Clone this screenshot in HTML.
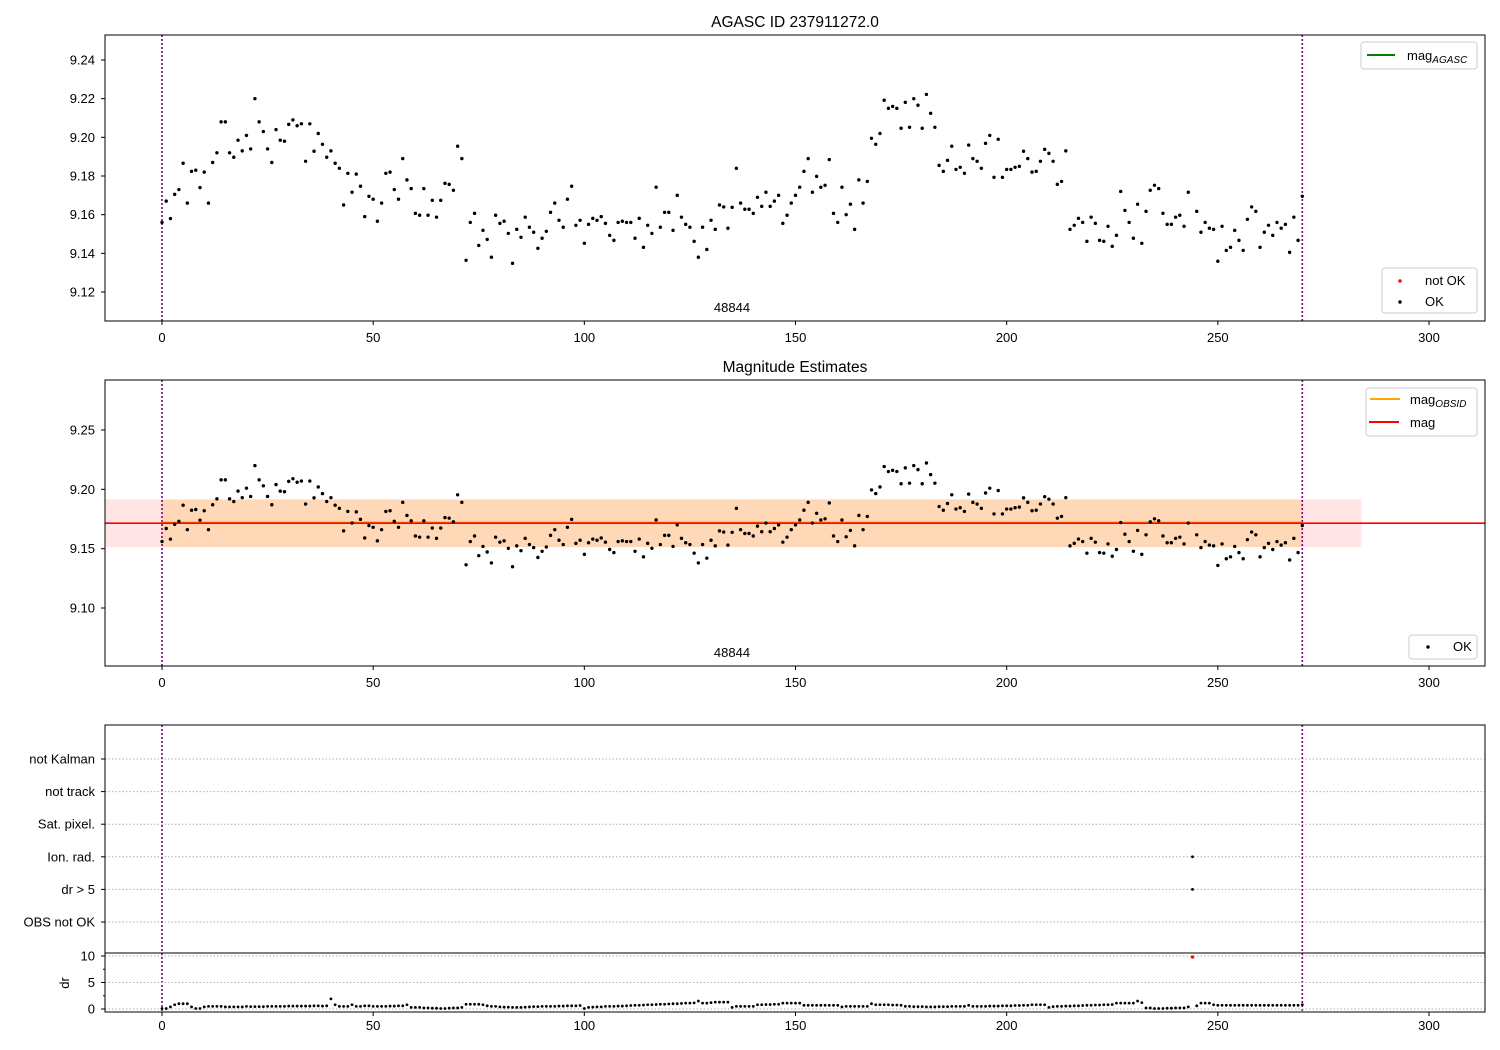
<!DOCTYPE html>
<html><head><meta charset="utf-8"><style>
body{margin:0;background:#fff}
svg{display:block;font-family:"Liberation Sans","DejaVu Sans",sans-serif}
</style></head><body>
<svg id="c" width="1500" height="1050" viewBox="0 0 1500 1050"></svg>
<script>
const okT=[0,1,2,3,4,5,6,7,8,9,10,11,12,13,14,15,16,17,18,19,20,21,22,23,24,25,26,27,28,29,30,31,32,33,34,35,36,37,38,39,40,41,42,43,44,45,46,47,48,49,50,51,52,53,54,55,56,57,58,59,60,61,62,63,64,65,66,67,68,69,70,71,72,73,74,75,76,77,78,79,80,81,82,83,84,85,86,87,88,89,90,91,92,93,94,95,96,97,98,99,100,101,102,103,104,105,106,107,108,109,110,111,112,113,114,115,116,117,118,119,120,121,122,123,124,125,126,127,128,129,130,131,132,133,134,135,136,137,138,139,140,141,142,143,144,145,146,147,148,149,150,151,152,153,154,155,156,157,158,159,160,161,162,163,164,165,166,167,168,169,170,171,172,173,174,175,176,177,178,179,180,181,182,183,184,185,186,187,188,189,190,191,192,193,194,195,196,197,198,199,200,201,202,203,204,205,206,207,208,209,210,211,212,213,214,215,216,217,218,219,220,221,222,223,224,225,226,227,228,229,230,231,232,233,234,235,236,237,238,239,240,241,242,243,245,246,247,248,249,250,251,252,253,254,255,256,257,258,259,260,261,262,263,264,265,266,267,268,269,270];
const okMag=[9.156,9.167,9.158,9.1705,9.173,9.1866,9.166,9.1824,9.183,9.174,9.182,9.166,9.187,9.192,9.208,9.208,9.192,9.1897,9.1985,9.193,9.201,9.194,9.220,9.208,9.203,9.194,9.187,9.204,9.1985,9.198,9.2067,9.209,9.206,9.207,9.1876,9.207,9.1928,9.202,9.1964,9.1897,9.193,9.1866,9.184,9.165,9.1814,9.1716,9.181,9.1747,9.159,9.1695,9.168,9.1566,9.166,9.1814,9.182,9.173,9.168,9.189,9.178,9.1735,9.1607,9.1597,9.1735,9.1597,9.1674,9.1587,9.1674,9.1762,9.1757,9.1726,9.1954,9.189,9.1364,9.156,9.1607,9.1441,
9.1519,9.1472,9.138,9.1597,9.1555,9.1566,9.1503,9.1348,9.1524,9.1483,9.1587,9.1535,9.1509,9.1426,9.1478,9.1514,9.1612,9.166,9.1571,9.1535,9.168,9.1747,9.1545,9.1571,9.1452,9.155,9.1581,9.1571,9.159,9.1555,9.1493,9.1467,9.156,9.1566,9.156,9.156,9.1478,9.1581,9.1431,9.1545,9.1503,9.1742,9.1535,9.1612,9.1612,9.1519,9.170,9.1587,9.155,9.1535,9.1462,9.138,9.1535,9.142,9.1571,9.1524,9.165,9.164,9.153,9.1638,9.184,9.166,9.1628,9.1628,9.1607,9.169,9.1643,9.1716,9.1643,9.167,9.170,9.1555,9.1597,9.166,9.170,9.1742,
9.1824,9.189,9.1716,9.1798,9.1742,9.1752,9.1885,9.1607,9.156,9.1742,9.160,9.1654,9.1524,9.178,9.166,9.1772,9.1995,9.1964,9.202,9.2192,9.215,9.216,9.215,9.2047,9.2181,9.2052,9.220,9.2166,9.2047,9.2222,9.2124,9.2052,9.1855,9.1824,9.1881,9.1954,9.1834,9.1845,9.1814,9.196,9.189,9.1876,9.184,9.1969,9.201,9.1793,9.199,9.1793,9.1834,9.1834,9.1845,9.185,9.1928,9.189,9.182,9.1824,9.1876,9.1938,9.1917,9.1876,9.1757,9.1772,9.193,9.1524,9.1545,9.1581,9.156,9.1462,9.1587,9.1555,9.1467,9.1462,9.154,9.1436,9.1493,
9.172,9.1622,9.156,9.1478,9.1654,9.1452,9.1617,9.1726,9.1752,9.1735,9.1607,9.155,9.155,9.1587,9.1597,9.154,9.1716,9.1617,9.1509,9.156,9.153,9.1524,9.1359,9.154,9.1415,9.1431,9.1519,9.1467,9.1415,9.1576,9.164,9.1617,9.1431,9.1509,9.1545,9.1493,9.156,9.153,9.155,9.1405,9.1587,9.1467,9.1695];
const drVals=[0.1,0.1,0.4,0.8,1.0,1.0,1.0,0.4,0.1,0.1,
0.4,0.5,0.5,0.5,0.5,0.4,0.4,0.4,0.4,0.4,
0.5,0.45,0.45,0.45,0.45,0.5,0.5,0.5,0.5,0.5,
0.55,0.55,0.55,0.55,0.55,0.55,0.6,0.6,0.55,0.6,
1.9,0.8,0.5,0.5,0.5,0.8,0.5,0.5,0.6,0.6,
0.5,0.5,0.5,0.5,0.55,0.55,0.6,0.6,0.8,0.3,
0.3,0.3,0.2,0.2,0.15,0.15,0.1,0.1,0.15,0.2,
0.2,0.3,0.9,0.9,0.9,0.9,0.8,0.6,0.5,0.5,
0.4,0.35,0.35,0.3,0.3,0.3,0.35,0.4,0.45,0.45,
0.5,0.5,0.5,0.5,0.55,0.55,0.6,0.6,0.6,0.65,
0.1,0.3,0.35,0.4,0.4,0.5,0.5,0.5,0.55,0.55,
0.6,0.65,0.7,0.7,0.75,0.8,0.8,0.85,0.9,0.9,
0.95,1.0,1.0,1.05,1.1,1.1,1.15,1.5,1.1,1.1,
1.2,1.3,1.3,1.3,1.3,0.3,0.5,0.5,0.5,0.5,
0.5,0.8,0.8,0.85,0.85,0.9,0.9,1.1,1.1,1.1,
1.1,1.1,0.7,0.7,0.7,0.7,0.7,0.7,0.7,0.7,
0.7,0.4,0.5,0.5,0.5,0.5,0.5,0.5,1.0,0.8,
0.8,0.8,0.8,0.75,0.75,0.7,0.5,0.5,0.45,0.45,
0.45,0.4,0.4,0.4,0.45,0.45,0.45,0.5,0.5,0.5,
0.5,0.7,0.5,0.5,0.5,0.5,0.55,0.55,0.55,0.6,
0.6,0.6,0.65,0.65,0.7,0.7,0.8,0.8,0.8,0.8,
0.3,0.45,0.5,0.5,0.55,0.55,0.6,0.6,0.65,0.7,
0.7,0.75,0.75,0.8,0.8,0.85,1.1,1.1,1.1,1.1,
1.1,1.5,1.2,0.2,0.2,0.1,0.1,0.1,0.15,0.15,
0.2,0.2,0.2,0.4,
0.6,1.1,1.1,1.1,0.8,
0.7,0.7,0.7,0.7,0.7,0.7,0.7,0.7,0.7,0.7,0.7,0.7,0.7,0.7,0.7,0.7,0.7,0.7,0.7,0.7,0.8];
const notOkT=[244];
const notOkDr=[9.8];
const flagCats=["OBS not OK","dr > 5","Ion. rad.","Sat. pixel.","not track","not Kalman"];
const flagT=[244,244];
const flagIdx=[1,2];
const magMean=9.1715, magLo=9.1513, magHi=9.1915;
const xTicks=[0,50,100,150,200,250,300];
const topTicks=[9.12,9.14,9.16,9.18,9.20,9.22,9.24];
const midTicks=[9.10,9.15,9.20,9.25];
const drTicks=[0,5,10];

const NS="http://www.w3.org/2000/svg";
const svg=document.getElementById('c');
function el(tag,attrs,parent,text){const e=document.createElementNS(NS,tag);for(const k in attrs)e.setAttribute(k,attrs[k]);if(text!==undefined)e.textContent=text;(parent||svg).appendChild(e);return e;}
const X=t=>162+t*(1429-162)/300;
const Ytop=m=>60+(9.24-m)*(292-60)/0.12;
const Ymid=m=>430+(9.25-m)*(608-430)/0.15;
const Yflag=i=>922-i*(922-759)/5;
const Ydr=d=>1009-d*(1009-956)/10;
const L=105,R=1485;

function frame(y0,y1,name){const r=el('rect',{x:L,y:y0,width:R-L,height:y1-y0,fill:'none',stroke:'#000','stroke-width':1});}
function xAxis(yb,ly,name){const g=el('g',{});
 xTicks.forEach(t=>{el('line',{x1:X(t),x2:X(t),y1:yb,y2:yb+4,stroke:'#000'},g);el('text',{x:X(t),y:ly,'font-size':13,'text-anchor':'middle'},g,String(t));});}
function yAxis(ticks,f,fmt,name){const g=el('g',{});
 ticks.forEach(v=>{el('line',{x1:L-4,x2:L,y1:f(v),y2:f(v),stroke:'#000'},g);el('text',{x:95,y:f(v)+4.5,'font-size':13,'text-anchor':'end'},g,fmt(v));});}
function vlines(y0,y1){[0,270].forEach(t=>{const l=el('line',{x1:X(t),x2:X(t),y1:y0,y2:y1,stroke:'#800080','stroke-width':1.6,'stroke-dasharray':'2,2'});});}
function dots(ts,ms,fx,fy,color,name,r){const g=el('g',{fill:color});
 ts.forEach((t,i)=>{if(ms[i]===undefined)return;el('circle',{cx:fx(t),cy:fy(ms[i]),r:r||1.7},g);});}

let tt=el('text',{x:795,y:27,'font-size':15.5,'text-anchor':'middle'},svg,'AGASC ID 237911272.0');
tt=el('text',{x:795,y:372,'font-size':15.5,'text-anchor':'middle'},svg,'Magnitude Estimates');

// Top panel
vlines(35,321);
dots(okT,okMag,X,Ytop,'#000','ok-points-top');
frame(35,321,'top-panel');
xAxis(321,342,'top-x-axis');
yAxis(topTicks,Ytop,v=>v.toFixed(2),'top-y-axis');
tt=el('text',{x:732,y:312,'font-size':13,'text-anchor':'middle'},svg,'48844');
let lg=el('g',{});
el('rect',{x:1361,y:42,width:116,height:27,rx:3,fill:'#fff',stroke:'#ccc'},lg);
el('line',{x1:1367,x2:1395,y1:55,y2:55,stroke:'green','stroke-width':2},lg);
let tx=el('text',{x:1407,y:60,'font-size':13},lg,'mag');el('tspan',{'font-size':10,'font-style':'italic',dy:3},tx,'AGASC');
lg=el('g',{});
el('rect',{x:1382,y:268,width:95,height:45,rx:3,fill:'#fff',stroke:'#ccc'},lg);
el('circle',{cx:1400,cy:281,r:1.7,fill:'red'},lg);el('text',{x:1425,y:285,'font-size':13},lg,'not OK');
el('circle',{cx:1400,cy:302,r:1.7,fill:'#000'},lg);el('text',{x:1425,y:306,'font-size':13},lg,'OK');

// Middle panel
let band=el('rect',{x:L,y:Ymid(magHi),width:X(284)-L,height:Ymid(magLo)-Ymid(magHi),fill:'red','fill-opacity':0.1});
band=el('rect',{x:X(0),y:Ymid(magHi),width:X(270)-X(0),height:Ymid(magLo)-Ymid(magHi),fill:'#ffa500','fill-opacity':0.2});
vlines(380,666);
let ln=el('line',{x1:X(0),x2:X(270),y1:Ymid(magMean+0.0005),y2:Ymid(magMean+0.0005),stroke:'orange','stroke-width':2});
ln=el('line',{x1:L,x2:R,y1:Ymid(magMean),y2:Ymid(magMean),stroke:'red','stroke-width':1.6});
dots(okT,okMag,X,Ymid,'#000','ok-points-middle');
frame(380,666,'middle-panel');
xAxis(666,687,'middle-x-axis');
yAxis(midTicks,Ymid,v=>v.toFixed(2),'middle-y-axis');
tt=el('text',{x:732,y:657,'font-size':13,'text-anchor':'middle'},svg,'48844');
lg=el('g',{});
el('rect',{x:1366,y:388,width:111,height:48,rx:3,fill:'#fff',stroke:'#ccc'},lg);
el('line',{x1:1370,x2:1400,y1:399,y2:399,stroke:'orange','stroke-width':2},lg);
tx=el('text',{x:1410,y:404,'font-size':13},lg,'mag');el('tspan',{'font-size':10,'font-style':'italic',dy:3},tx,'OBSID');
el('line',{x1:1369,x2:1399,y1:422,y2:422,stroke:'red','stroke-width':2},lg);
el('text',{x:1410,y:427,'font-size':13},lg,'mag');
lg=el('g',{});
el('rect',{x:1409,y:635,width:68,height:24,rx:3,fill:'#fff',stroke:'#ccc'},lg);
el('circle',{cx:1428,cy:647,r:1.7,fill:'#000'},lg);el('text',{x:1453,y:651,'font-size':13},lg,'OK');

// Flags panel
let gg=el('g',{});
flagCats.forEach((c,i)=>{el('line',{x1:L,x2:R,y1:Yflag(i),y2:Yflag(i),stroke:'#b0b0b0','stroke-dasharray':'1.5,2'},gg);});
vlines(725,1012);
dots(flagT,flagIdx,X,Yflag,'#000','flag-points',1.4);
frame(725,953,'flags-panel');
yAxis(flagCats.map((c,i)=>i),Yflag,i=>flagCats[i],'flags-y-axis');

// dr panel
gg=el('g',{});
drTicks.forEach(v=>el('line',{x1:L,x2:R,y1:Ydr(v),y2:Ydr(v),stroke:'#b0b0b0','stroke-dasharray':'1.5,2'},gg));
[2.5,7.5].forEach(v=>el('line',{x1:L-2,x2:L,y1:Ydr(v),y2:Ydr(v),stroke:'#000'},gg));
const drT=[];for(let t=0;t<=270;t++){if(t!==244)drT.push(t);}
dots(drT,drVals,X,Ydr,'#000','dr-points',1.4);
dots(notOkT,notOkDr,X,Ydr,'red','dr-not-ok-points',1.7);
frame(953,1012,'dr-panel');
xAxis(1012,1030,'bottom-x-axis');
yAxis(drTicks,Ydr,v=>String(v),'dr-y-axis');
tt=el('text',{x:0,y:0,'font-size':13,'text-anchor':'middle',transform:'translate(69,983) rotate(-90)'},svg,'dr');
</script>
</body></html>
